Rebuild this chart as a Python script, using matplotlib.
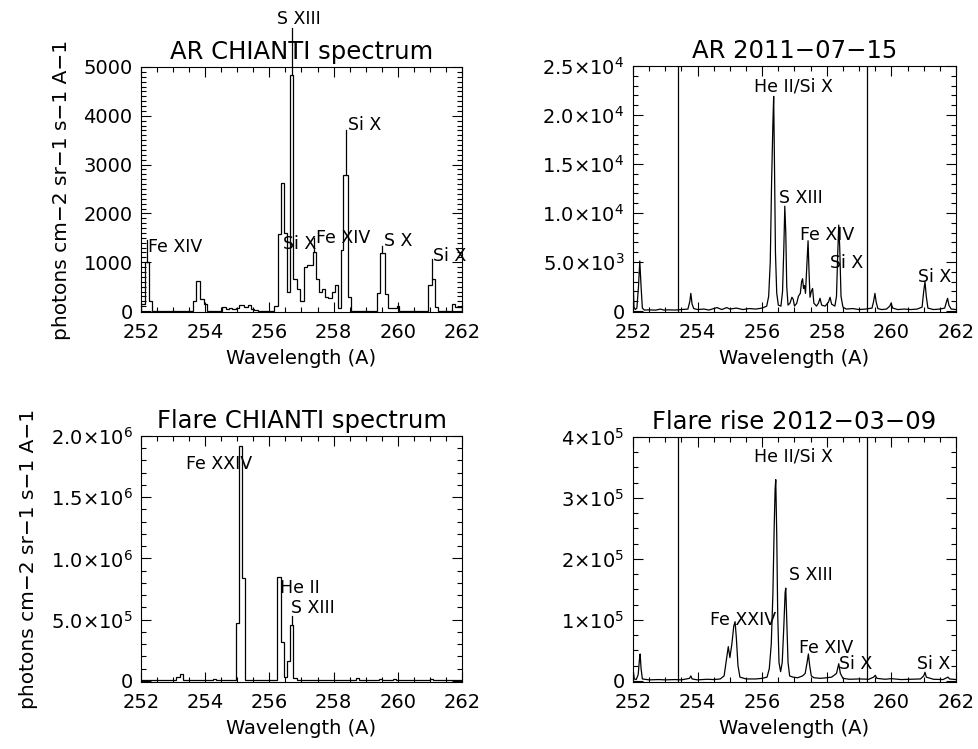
import numpy as np
import matplotlib.pyplot as plt
from matplotlib.ticker import MultipleLocator, FuncFormatter

# ---------------- data ----------------
# AR CHIANTI synthetic spectrum (histogram steps)
ar_chianti_edges = [252.00, 252.12, 252.25, 252.35, 253.63, 253.71, 253.84, 253.96, 254.07,
                    254.51, 254.64, 254.74, 254.85, 254.95, 255.06, 255.21, 255.32, 255.42,
                    255.53, 255.65, 256.14, 256.26, 256.35, 256.47, 256.54, 256.65, 256.75,
                    256.85, 256.95, 257.07, 257.18, 257.36, 257.46, 257.53, 257.63, 257.74,
                    257.84, 257.95, 258.05, 258.15, 258.22, 258.30, 258.46, 258.53, 259.34,
                    259.45, 259.60, 259.70, 259.96, 260.05, 260.95, 261.05, 261.15, 261.26,
                    261.68, 261.79, 262.00]
ar_chianti_vals = [150, 1000, 200, 0, 200, 610, 245, 140, 0, 80, 40, 70, 50, 70, 120, 90, 130,
                   40, 30, 0, 100, 1570, 2630, 1600, 380, 4840, 650, 450, 200, 900, 950, 1210,
                   650, 380, 450, 280, 260, 380, 540, 60, 1245, 2790, 290, 0, 360, 1180, 340,
                   60, 100, 0, 530, 650, 80, 0, 150, 90]

# AR observed 2011-07-15
ar_obs_wl = [252.00, 252.03, 252.07, 252.12, 252.17, 252.21, 252.25, 252.29, 252.35, 252.50,
             252.70, 252.85, 252.95, 253.10, 253.30, 253.50, 253.70, 253.76, 253.79, 253.83,
             253.88, 254.00, 254.20, 254.35, 254.50, 254.60, 254.75, 254.90, 255.00, 255.20,
             255.40, 255.60, 255.80, 256.00, 256.14, 256.20, 256.25, 256.29, 256.33, 256.355,
             256.38, 256.41, 256.45, 256.50, 256.58, 256.63, 256.67, 256.70, 256.73, 256.76,
             256.80, 256.86, 256.92, 256.96, 257.00, 257.07, 257.12, 257.18, 257.22, 257.25,
             257.28, 257.31, 257.34, 257.38, 257.42, 257.45, 257.48, 257.52, 257.56, 257.60,
             257.68, 257.74, 257.79, 257.84, 257.95, 258.05, 258.10, 258.15, 258.25, 258.30,
             258.34, 258.37, 258.40, 258.44, 258.50, 258.60, 258.80, 259.00, 259.20, 259.40,
             259.45, 259.49, 259.53, 259.58, 259.70, 259.85, 259.95, 259.99, 260.04, 260.20,
             260.40, 260.60, 260.80, 260.95, 261.00, 261.04, 261.08, 261.13, 261.30, 261.50,
             261.65, 261.71, 261.74, 261.78, 261.85, 262.00]
ar_obs_int = [3700, 400, 150, 300, 2500, 5100, 2500, 300, 100, 120,
              90, 200, 100, 120, 100, 150, 200, 1000, 1800, 700,
              250, 150, 200, 100, 250, 350, 150, 350, 200, 300,
              150, 250, 200, 300, 500, 1500, 5000, 13000, 19000, 21900,
              15000, 6000, 1800, 600, 500, 2000, 6500, 10700, 8000, 2500,
              600, 800, 1400, 1200, 500, 800, 1500, 1800, 3000, 3300,
              2300, 2600, 1800, 4500, 7170, 4000, 1400, 2000, 2300, 800,
              500, 800, 1300, 600, 500, 900, 1400, 700, 500, 1500,
              6000, 8770, 6500, 1500, 400, 200, 250, 150, 200, 300,
              1000, 1800, 900, 250, 150, 200, 500, 800, 300, 150,
              200, 150, 200, 400, 2000, 3000, 1500, 300, 150, 200,
              300, 1000, 1300, 600, 200, 150]

# Flare CHIANTI synthetic spectrum (histogram steps)
fl_chianti_edges = [252.00, 253.10, 253.20, 253.30, 253.40, 254.25, 254.35, 254.45, 254.96,
                    255.05, 255.15, 255.24, 256.25, 256.35, 256.44, 256.55, 256.64, 256.74,
                    256.85, 258.70, 258.80, 259.40, 259.50, 259.85, 259.95, 261.00, 261.10,
                    262.00]
fl_chianti_vals = [3000, 30000, 55000, 10000, 3000, 15000, 8000, 3000, 476000,
                   1920000, 840000, 5000, 850000, 320000, 30000, 160000, 454000, 20000,
                   5000, 20000, 5000, 15000, 5000, 18000, 5000, 12000, 4000]

# Flare rise observed 2012-03-09
fl_obs_wl = [252.00, 252.04, 252.10, 252.16, 252.20, 252.22, 252.25, 252.29, 252.50, 252.80,
             253.00, 253.30, 253.50, 253.75, 253.79, 253.83, 254.00, 254.30, 254.50, 254.70,
             254.82, 254.88, 254.95, 255.00, 255.06, 255.12, 255.16, 255.20, 255.25, 255.31,
             255.50, 255.80, 256.00, 256.15, 256.22, 256.28, 256.33, 256.37, 256.40, 256.42,
             256.45, 256.48, 256.52, 256.57, 256.62, 256.67, 256.71, 256.73, 256.76, 256.80,
             256.85, 256.95, 257.10, 257.25, 257.33, 257.39, 257.43, 257.47, 257.52, 257.60,
             257.80, 258.00, 258.15, 258.30, 258.37, 258.42, 258.50, 258.70, 259.00, 259.30,
             259.45, 259.50, 259.55, 259.80, 260.00, 260.30, 260.60, 260.90, 261.00, 261.04,
             261.08, 261.30, 261.60, 261.75, 261.80, 262.00]
fl_obs_int = [20000, 3000, 2000, 10000, 35000, 44000, 20000, 3000, 1500, 2000,
              1500, 2000, 1500, 4000, 8000, 3000, 1500, 2500, 2000, 3000,
              8000, 30000, 56000, 38000, 60000, 90000, 97000, 70000, 25000, 6000,
              3000, 3000, 4000, 6000, 20000, 60000, 140000, 250000, 315000, 330000,
              240000, 110000, 30000, 15000, 30000, 90000, 145000, 152000, 100000, 30000,
              8000, 6000, 5000, 8000, 12000, 30000, 44000, 25000, 8000, 5000,
              4000, 5000, 6000, 12000, 28000, 12000, 4000, 2500, 3000, 2500,
              6000, 9000, 4000, 2500, 3500, 2000, 2500, 3000, 8000, 14000,
              6000, 2500, 2000, 6000, 3000, 2000]

# labels: (text, x centre, y baseline)
ar_chianti_labels = [("Fe XIV", 253.06, 1210), ("Si X", 256.93, 1280), ("S XIII", 256.93, 5880),
                     ("Fe XIV", 258.29, 1400), ("Si X", 258.96, 3700), ("S X", 260.00, 1330),
                     ("Si X", 261.60, 1030)]
# label pointer lines: (x, y from, y to)
ar_chianti_lines = [(252.20, 1000, 1450), (256.70, 4840, 5800), (257.39, 1210, 1500),
                    (258.39, 2790, 3700), (259.52, 1180, 1330), (261.07, 650, 1060)]
ar_obs_labels = [("He II/Si X", 256.97, 22370), ("S XIII", 257.21, 10990), ("Fe XIV", 258.00, 7240),
                 ("Si X", 258.60, 4350), ("Si X", 261.33, 2990)]
fl_chianti_labels = [("Fe XXIV", 254.44, 1.73e6), ("He II", 256.96, 7.19e5), ("S XIII", 257.36, 5.57e5)]
fl_chianti_lines = [(256.69, 4.54e5, 5.3e5)]
fl_obs_labels = [("He II/Si X", 256.97, 3.6e5), ("S XIII", 257.50, 1.66e5), ("Fe XXIV", 255.42, 9.2e4),
                 ("Fe XIV", 257.98, 4.5e4), ("Si X", 258.89, 2.0e4), ("Si X", 261.32, 2.0e4)]

band_edges = [253.38, 259.24]

ylab = "photons cm\u22122 sr\u22121 s\u22121 A\u22121"

# ---------------- plot ----------------
plt.rcParams['font.family'] = ['DejaVu Sans']
plt.rcParams['mathtext.fontset'] = 'dejavusans'

fig = plt.figure(figsize=(9.79, 7.49), dpi=100)
W, H = 979., 749.

def add_ax(x0, x1, y0, y1):
    return fig.add_axes([x0 / W, 1 - y1 / H, (x1 - x0) / W, (y1 - y0) / H])

ax1 = add_ax(141, 462, 67, 312)
ax2 = add_ax(633, 956, 66, 312)
ax3 = add_ax(141, 462, 436, 682)
ax4 = add_ax(633, 956, 437, 682)


def sci(ndec):
    def f(v, pos):
        if abs(v) < 1e-9:
            return "0"
        e = int(np.floor(np.log10(abs(v)) + 1e-9))
        m = v / 10 ** e
        return r"$%.*f{\times}10^{%d}$" % (ndec, m, e)
    return FuncFormatter(f)


def style(ax, ymaj, ymin):
    ax.set_xlim(252, 262)
    ax.xaxis.set_major_locator(MultipleLocator(2))
    ax.xaxis.set_minor_locator(MultipleLocator(0.5))
    ax.yaxis.set_major_locator(MultipleLocator(ymaj))
    ax.yaxis.set_minor_locator(MultipleLocator(ymin))
    ax.tick_params(which='both', direction='in', top=True, right=True, width=0.8,
                   labelsize=14)
    ax.tick_params(axis='x', pad=8)
    ax.tick_params(axis='y', pad=6)
    ax.tick_params(which='major', length=7)
    ax.tick_params(which='minor', length=3.5)
    for s in ax.spines.values():
        s.set_linewidth(0.8)
    ax.set_xlabel("Wavelength (A)", fontsize=14, labelpad=5)


# AR CHIANTI
ax1.stairs(ar_chianti_vals, ar_chianti_edges, color='k', lw=0.9)
ax1.set_ylim(-20, 5000)
style(ax1, 1000, 100)
ax1.set_title("AR CHIANTI spectrum", fontsize=17.5, pad=6)
ax1.set_ylabel(ylab, fontsize=14.5, labelpad=9)
for x, y0, y1 in ar_chianti_lines:
    ax1.plot([x, x], [y0, y1], color='k', lw=0.9, clip_on=False)
for s, x, y in ar_chianti_labels:
    ax1.text(x, y, s, ha='center', va='baseline', fontsize=12.5, clip_on=False)

# AR observed
ax2.plot(ar_obs_wl, ar_obs_int, color='k', lw=0.9)
for b in band_edges:
    ax2.axvline(b, color='k', lw=0.9)
ax2.set_ylim(-100, 25000)
style(ax2, 5000, 1000)
ax2.yaxis.set_major_formatter(sci(1))
ax2.set_title("AR 2011\u221207\u221215", fontsize=17.5, pad=6)
for s, x, y in ar_obs_labels:
    ax2.text(x, y, s, ha='center', va='baseline', fontsize=12.5)

# Flare CHIANTI
ax3.stairs(fl_chianti_vals, fl_chianti_edges, color='k', lw=0.9)
ax3.set_ylim(-1e4, 2e6)
style(ax3, 5e5, 1e5)
ax3.yaxis.set_major_formatter(sci(1))
ax3.set_title("Flare CHIANTI spectrum", fontsize=17.5, pad=6)
ax3.set_ylabel(ylab, fontsize=14.5, labelpad=9)
for x, y0, y1 in fl_chianti_lines:
    ax3.plot([x, x], [y0, y1], color='k', lw=0.9)
for s, x, y in fl_chianti_labels:
    ax3.text(x, y, s, ha='center', va='baseline', fontsize=12.5)

# Flare observed
ax4.plot(fl_obs_wl, fl_obs_int, color='k', lw=0.9)
for b in band_edges:
    ax4.axvline(b, color='k', lw=0.9)
ax4.set_ylim(-2e3, 4e5)
style(ax4, 1e5, 2.5e4)
ax4.yaxis.set_major_formatter(sci(0))
ax4.set_title("Flare rise 2012\u221203\u221209", fontsize=17.5, pad=6)
for s, x, y in fl_obs_labels:
    ax4.text(x, y, s, ha='center', va='baseline', fontsize=12.5)

fig.savefig("out.png", dpi=100)
